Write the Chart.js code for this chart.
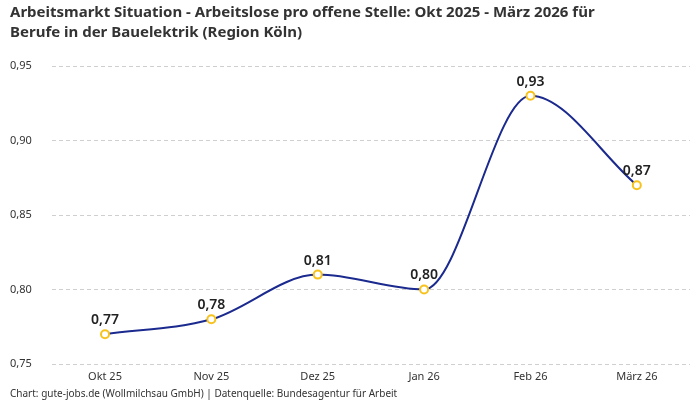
<!DOCTYPE html>
<html>
<head>
<meta charset="utf-8">
<script src="https://cdn.jsdelivr.net/npm/chart.js@4/dist/chart.umd.min.js"></script>
<style>
  html, body { margin: 0; padding: 0; background: #fff; }
  #wrap { width: 700px; height: 400px; }
</style>
</head>
<body>
<div id="wrap"><canvas id="chart"></canvas></div>
<script>
const monate = ['Okt 25', 'Nov 25', 'Dez 25', 'Jan 26', 'Feb 26', 'März 26'];
const arbeitsloseProStelle = [0.77, 0.78, 0.81, 0.80, 0.93, 0.87];
const titelZeilen = [
    'Arbeitsmarkt Situation - Arbeitslose pro offene Stelle: Okt 2025 - März 2026 für',
    'Berufe in der Bauelektrik (Region Köln)'
];
const quelle = 'Chart: gute-jobs.de (Wollmilchsau GmbH) | Datenquelle: Bundesagentur für Arbeit';

const schrift = '"Noto Sans", "DejaVu Sans", sans-serif';

function zahlDe(v, stellen) {
    return v.toFixed(stellen).replace('.', ',');
}

// Werte über die Punkte schreiben
const wertLabels = {
    id: 'wertLabels',
    afterDatasetsDraw(chart) {
        const ctx = chart.ctx;
        const meta = chart.getDatasetMeta(0);
        ctx.save();
        ctx.font = '600 14px ' + schrift;
        ctx.fillStyle = '#222';
        ctx.textAlign = 'center';
        ctx.textBaseline = 'bottom';
        meta.data.forEach((pt, i) => {
            ctx.fillText(zahlDe(arbeitsloseProStelle[i], 2), pt.x, pt.y - 7);
        });
        ctx.restore();
    }
};

new Chart(document.getElementById('chart').getContext('2d'), {
    type: 'line',
    data: {
        labels: monate,
        datasets: [{
            data: arbeitsloseProStelle,
            borderColor: '#1b2a8e',
            borderWidth: 2,
            cubicInterpolationMode: 'monotone',
            pointRadius: 4,
            pointBorderWidth: 2,
            pointBackgroundColor: '#fff',
            pointBorderColor: '#f8c21c',
            fill: false
        }]
    },
    options: {
        responsive: true,
        maintainAspectRatio: false,
        animation: false,
        layout: { padding: { left: 10, right: 10, top: 3, bottom: 0 } },
        plugins: {
            legend: { display: false },
            tooltip: { enabled: false },
            title: {
                display: true,
                text: titelZeilen,
                align: 'start',
                color: '#333',
                font: { family: schrift, size: 15, weight: 'bold', lineHeight: 1.3 },
                padding: { top: 0, bottom: 24 }
            },
            subtitle: {
                display: true,
                text: quelle,
                position: 'bottom',
                align: 'start',
                color: '#333',
                font: { family: schrift, size: 10, lineHeight: 1.0 },
                padding: { top: 0, bottom: 1 }
            }
        },
        scales: {
            x: {
                offset: true,
                grid: { display: false, drawTicks: false },
                border: { display: false },
                ticks: { color: '#333', font: { family: schrift, size: 11, lineHeight: 1.0 }, padding: 7 }
            },
            y: {
                min: 0.75,
                max: 0.95,
                grid: { color: '#cfcfcf', drawTicks: false },
                border: { display: false, dash: [4, 3] },
                ticks: {
                    stepSize: 0.05,
                    color: '#333',
                    crossAlign: 'far',
                    padding: 10,
                    font: { family: schrift, size: 11 },
                    callback: v => zahlDe(v, 2)
                }
            }
        }
    },
    plugins: [wertLabels]
});
</script>
</body>
</html>
